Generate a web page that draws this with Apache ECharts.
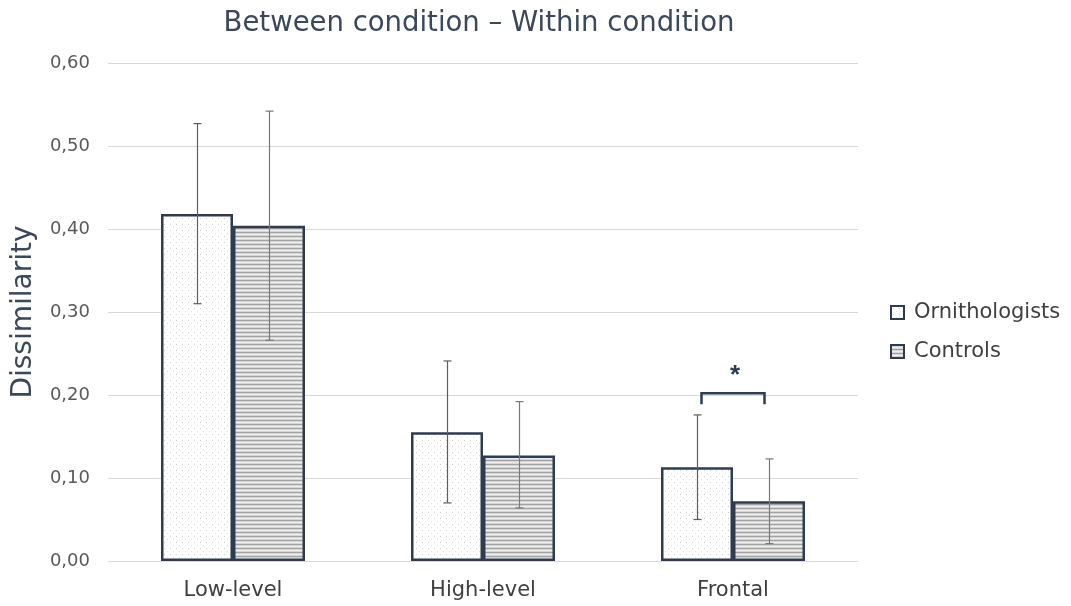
<!DOCTYPE html>
<html>
<head>
<meta charset="utf-8">
<script src="https://cdn.jsdelivr.net/npm/echarts@6/dist/echarts.min.js"></script>
<style>
html,body{margin:0;padding:0;background:#fff;}
#chart{width:1071px;height:606px;}
</style>
</head>
<body>
<div id="chart"></div>
<script>
// ---- data ----
var categories = ['Low-level', 'High-level', 'Frontal'];
var seriesNames = ['Ornithologists', 'Controls'];
var ornMean = [0.418, 0.155, 0.113];
var ornLow  = [0.310, 0.070, 0.050];
var ornHigh = [0.527, 0.241, 0.176];
var ctrlMean = [0.404, 0.127, 0.072];
var ctrlLow  = [0.266, 0.064, 0.021];
var ctrlHigh = [0.542, 0.192, 0.123];
var sigCategory = ['Frontal'];
var sigTop = [0.202];
var sigTip = [0.189];
var sigLabel = ['*'];

var FONT = 'DejaVu Sans, Liberation Sans, Arial, sans-serif';

// ---- patterns ----
function dotPattern() {
  var c = document.createElement('canvas');
  c.width = 6; c.height = 6;
  var g = c.getContext('2d');
  g.fillStyle = '#ffffff'; g.fillRect(0, 0, 6, 6);
  g.fillStyle = '#cccccc'; g.fillRect(2, 2, 1, 1);
  g.fillStyle = '#e0e0e0'; g.fillRect(5, 5, 1, 1);
  return c;
}
function stripePattern() {
  var c = document.createElement('canvas');
  c.width = 4; c.height = 4;
  var g = c.getContext('2d');
  var rows = ['#a2a2a2', '#d6d6d6', '#ededed', '#d6d6d6'];
  for (var i = 0; i < 4; i++) { g.fillStyle = rows[i]; g.fillRect(0, i, 4, 1); }
  return c;
}

var BAR_FRAC = 0.288;
function errSeries(idx, low, high, color) {
  var data = categories.map(function (c, i) { return [i, low[i], high[i]]; });
  return {
    type: 'custom', name: seriesNames[idx] + ' err', z: 10, silent: true,
    data: data,
    renderItem: function (params, api) {
      var band = api.size([1, 0])[0];
      var off = (idx === 0 ? -1 : 1) * band * BAR_FRAC / 2;
      var p1 = api.coord([api.value(0), api.value(1)]);
      var p2 = api.coord([api.value(0), api.value(2)]);
      var x = Math.round(p1[0] + off) + 0.5;
      var st = { stroke: color, lineWidth: 1.2 };
      return { type: 'group', children: [
        { type: 'line', shape: { x1: x, y1: p1[1], x2: x, y2: p2[1] }, style: st },
        { type: 'line', shape: { x1: x - 4, y1: p1[1], x2: x + 4, y2: p1[1] }, style: st },
        { type: 'line', shape: { x1: x - 4, y1: p2[1], x2: x + 4, y2: p2[1] }, style: st }
      ]};
    }
  };
}

var chart = echarts.init(document.getElementById('chart'));
chart.setOption({
  backgroundColor: '#ffffff',
  animation: false,
  textStyle: { fontFamily: FONT },
  title: {
    text: 'Between condition \u2013 Within condition',
    left: 474, top: 5, textAlign: 'center',
    textStyle: { fontSize: 27.5, fontWeight: 'normal', color: '#3b4859', fontFamily: FONT }
  },
  legend: {
    data: seriesNames,
    orient: 'vertical', left: 885, top: 297,
    itemWidth: 13, itemHeight: 13, itemGap: 18, icon: 'rect',
    textStyle: { fontSize: 21, color: '#404040', padding: [0, 0, 0, 5], fontFamily: FONT }
  },
  grid: { left: 108, right: 213, top: 63, bottom: 45 },
  xAxis: {
    type: 'category', data: categories,
    axisLine: { show: true, lineStyle: { color: '#d9d9d9', width: 1 } },
    axisTick: { show: false },
    axisLabel: { fontSize: 21, color: '#404040', margin: 19, fontFamily: FONT }
  },
  yAxis: {
    type: 'value', min: 0, max: 0.6, interval: 0.1,
    name: 'Dissimilarity', nameLocation: 'middle', nameGap: 70, nameRotate: 90,
    nameTextStyle: { fontSize: 28, color: '#3b4859', fontFamily: FONT },
    axisLine: { show: false }, axisTick: { show: false },
    splitLine: { lineStyle: { color: '#d9d9d9', width: 1 } },
    axisLabel: { fontSize: 18, color: '#595959', margin: 18, fontFamily: FONT,
      formatter: function (v) { return v.toFixed(2).replace('.', ','); } }
  },
  series: [
    { type: 'bar', name: seriesNames[0], data: ornMean, barWidth: (BAR_FRAC * 100) + '%', barGap: '0%',
      itemStyle: { color: { image: dotPattern(), repeat: 'repeat' }, borderColor: '#2f3c50', borderWidth: 2.5 } },
    { type: 'bar', name: seriesNames[1], data: ctrlMean, barWidth: (BAR_FRAC * 100) + '%', barGap: '0%',
      itemStyle: { color: { image: stripePattern(), repeat: 'repeat' }, borderColor: '#2f3c50', borderWidth: 2.5 } },
    errSeries(0, ornLow, ornHigh, '#5e5e5e'),
    errSeries(1, ctrlLow, ctrlHigh, '#787878'),
    {
      type: 'custom', name: 'sig', z: 11, silent: true,
      data: sigCategory.map(function (c, i) { return [categories.indexOf(c), sigTop[i], sigTip[i]]; }),
      renderItem: function (params, api) {
        var band = api.size([1, 0])[0];
        var pTop = api.coord([api.value(0), api.value(1)]);
        var pTip = api.coord([api.value(0), api.value(2)]);
        var half = band * 0.126;
        var xl = pTop[0] - half, xr = pTop[0] + half;
        return { type: 'group', children: [
          { type: 'polyline', shape: { points: [[xl, pTip[1]], [xl, pTop[1]], [xr, pTop[1]], [xr, pTip[1]]] },
            style: { stroke: '#2f3c50', lineWidth: 2.5, fill: null } },
          { type: 'text', x: pTop[0] + 2, y: pTop[1] - 5,
            style: { text: sigLabel[params.dataIndex], fill: '#2f3c50', align: 'center', verticalAlign: 'bottom',
              font: 'bold 26px Liberation Sans, Arial, sans-serif' } }
        ]};
      }
    }
  ]
});
</script>
</body>
</html>
